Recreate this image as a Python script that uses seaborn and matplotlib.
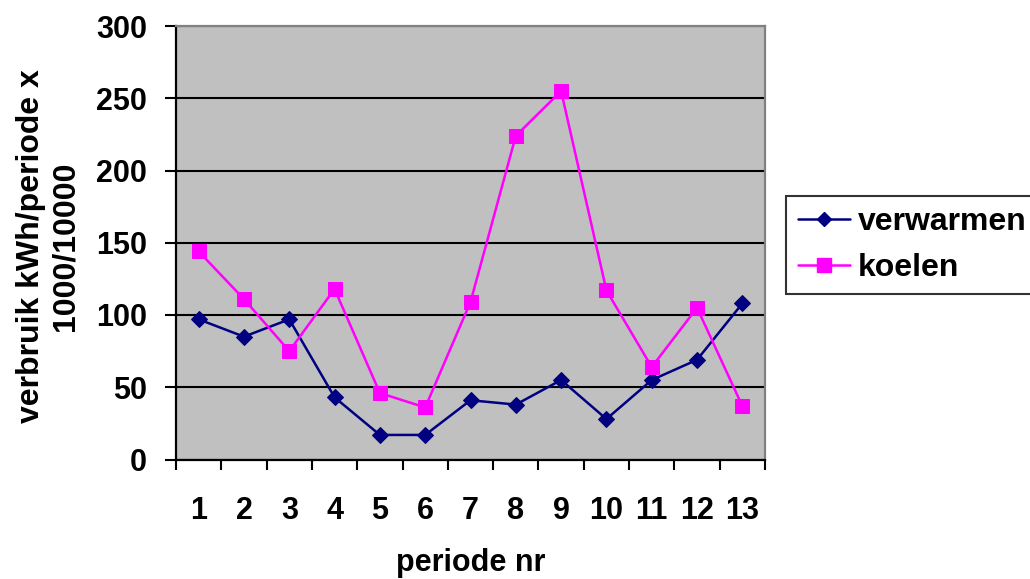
import matplotlib
matplotlib.use("Agg")
import matplotlib.pyplot as plt
import seaborn as sns
import pandas as pd
from matplotlib.ticker import FixedLocator, NullFormatter
from matplotlib.lines import Line2D

perioden = [1, 2, 3, 4, 5, 6, 7, 8, 9, 10, 11, 12, 13]
verwarmen = [97, 85, 97, 43, 17, 17, 41, 38, 55, 28, 55, 69, 108]
koelen = [144, 111, 75, 118, 46, 36, 109, 224, 255, 117, 64, 105, 37]
y_ticks = [0, 50, 100, 150, 200, 250, 300]

sns.set_style("white")
plt.rcParams['font.family'] = ['Liberation Sans', 'DejaVu Sans']
plt.rcParams['font.weight'] = 'bold'
plt.rcParams['text.color'] = 'black'
plt.rcParams['axes.labelcolor'] = 'black'
plt.rcParams['xtick.color'] = 'black'
plt.rcParams['ytick.color'] = 'black'

df_w = pd.DataFrame({"periode": perioden, "verbruik": verwarmen})
df_k = pd.DataFrame({"periode": perioden, "verbruik": koelen})

fig = plt.figure(figsize=(10.3, 5.79), dpi=100)
ax = fig.add_axes([176/1030, 1 - 459.5/579, (765-176)/1030, (459.5-26)/579])
ax.set_facecolor('#C0C0C0')

c_w = '#000080'
c_k = '#FF00FF'
lw = 1.8
sns.lineplot(data=df_w, x="periode", y="verbruik", ax=ax, color=c_w, marker='D',
             markersize=8, markeredgecolor=c_w, linewidth=lw, zorder=3)
sns.lineplot(data=df_k, x="periode", y="verbruik", ax=ax, color=c_k, marker='s',
             markersize=10.5, markeredgecolor=c_k, linewidth=lw, zorder=4)

ax.set_xlim(0.5, 13.5)
ax.set_ylim(0, 300)
ax.set_yticks(y_ticks)
ax.set_xticks(perioden)
ax.set_xticklabels([str(p) for p in perioden])
ax.xaxis.set_minor_locator(FixedLocator([p - 0.5 for p in perioden] + [13.5]))
ax.xaxis.set_minor_formatter(NullFormatter())

ax.tick_params(axis='x', which='major', length=0, pad=26, labelsize=22, labelcolor='black')
ax.tick_params(axis='x', which='minor', length=7.5, width=1.5, color='black', bottom=True)
ax.tick_params(axis='y', which='major', length=8, width=1.5, color='black', pad=13,
               labelsize=22, left=True, labelcolor='black')
for lab in ax.get_xticklabels() + ax.get_yticklabels():
    lab.set_fontweight('bold')

ax.grid(axis='y', color='black', linewidth=1.5)
ax.grid(axis='x', visible=False)
ax.set_axisbelow(True)

for s in ['left', 'bottom']:
    ax.spines[s].set_color('black')
    ax.spines[s].set_linewidth(1.6)
for s in ['top', 'right']:
    ax.spines[s].set_color('#808080')
    ax.spines[s].set_linewidth(1.6)
    ax.spines[s].set_visible(True)

ax.set_xlabel("periode nr", fontsize=22, fontweight='bold', va='center', color='black')
ax.xaxis.set_label_coords(0.5, (459.5 - 563) / 433.5)
ax.set_ylabel("verbruik kWh/periode x\n1000/10000", fontsize=23, fontweight='bold',
              va='center', ha='center', linespacing=1.2, color='black')
ax.yaxis.set_label_coords((48 - 176) / 589, (459.5 - 246.5) / 433.5)

handles = [
    Line2D([], [], color=c_w, marker='D', markersize=7.5, linewidth=lw),
    Line2D([], [], color=c_k, marker='s', markersize=10.5, linewidth=lw),
]
leg = fig.legend(handles, ["verwarmen", "koelen"], loc='upper left',
                 bbox_to_anchor=(786/1030, 1 - 196/579, (1045 - 786)/1030, 0.0),
                 mode='expand', frameon=True, fancybox=False,
                 prop={'size': 23, 'weight': 'bold'}, handlelength=1.65,
                 handletextpad=0.25, borderpad=0.36, labelspacing=0.48,
                 borderaxespad=0)
leg.get_frame().set_edgecolor('black')
leg.get_frame().set_linewidth(1.5)
leg.get_frame().set_facecolor('white')
for t in leg.get_texts():
    t.set_color('black')

fig.savefig("out.png", dpi=100)
